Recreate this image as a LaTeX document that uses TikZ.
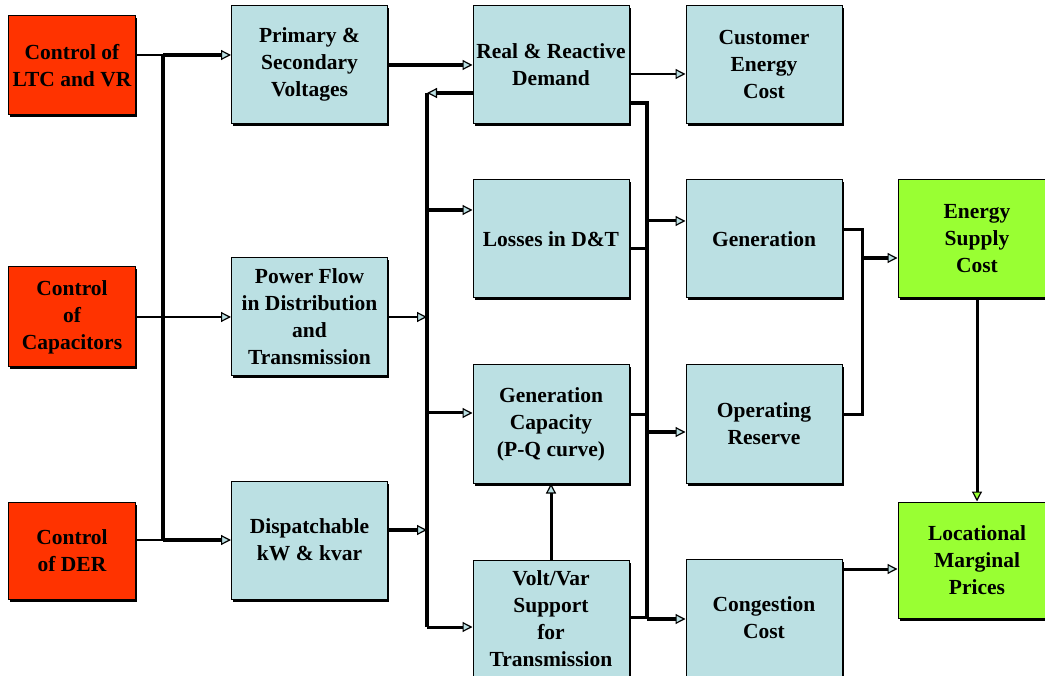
\documentclass[tikz,border=0pt]{standalone}
\usepackage{fontspec}
\setmainfont{Liberation Serif}
\usetikzlibrary{arrows.meta,shadows}
\definecolor{cred}{HTML}{FF3300}
\definecolor{cblue}{HTML}{BBE0E3}
\definecolor{cgreen}{HTML}{99FF33}
\begin{document}
\begin{tikzpicture}[x=1pt,y=-1pt,
 boxbase/.style={draw=black, line width=1pt, align=center, inner sep=0pt,
   font=\fontsize{21.5}{27}\selectfont\bfseries,
   drop shadow={shadow xshift=1.5pt, shadow yshift=-2.5pt, fill=black, opacity=1}},
 redbox/.style={boxbase, fill=cred, minimum width=127pt},
 bluebox/.style={boxbase, fill=cblue, minimum width=156pt, minimum height=118pt},
 greenbox/.style={boxbase, fill=cgreen, minimum width=158pt},
 thinln/.style={line width=2pt},
 medln/.style={line width=3pt},
 thickln/.style={line width=4pt},
 tipb/.style={-{Triangle[length=10pt,width=10pt,fill=cblue,line width=1.2pt]}},
 tipg/.style={-{Triangle[length=10pt,width=10pt,fill=cgreen,line width=1.2pt]}}
]
\useasboundingbox (0,0) rectangle (1045,676);
\fill[white] (0,0) rectangle (1045,676);
% boxes
\node[redbox, minimum height=99pt] (ltc) at (72,65.5) {Control of\\LTC and VR};
\node[redbox, minimum height=100pt] (cap) at (72,317) {Control\\of\\Capacitors};
\node[redbox, minimum height=97pt] (der) at (72,550.5) {Control\\of DER};
\node[bluebox] (prim) at (309.5,64.5) {Primary \&\\Secondary\\Voltages};
\node[bluebox] (pf) at (309.5,317) {Power Flow\\in Distribution\\and\\Transmission};
\node[bluebox] (disp) at (309.5,540) {Dispatchable\\kW \& kvar};
\node[bluebox] (real) at (551,65) {Real \& Reactive\\Demand};
\node[bluebox] (loss) at (551,239) {Losses in D\&T};
\node[bluebox] (gencap) at (551,424) {Generation\\Capacity\\(P-Q curve)};
\node[bluebox] (vv) at (551,619) {Volt/Var\\Support\\for\\Transmission};
\node[bluebox] (cust) at (764,64.5) {Customer\\Energy\\Cost};
\node[bluebox] (gen) at (764,239) {Generation};
\node[bluebox] (opres) at (764,424) {Operating\\Reserve};
\node[bluebox] (cong) at (764,618) {Congestion\\Cost};
\node[greenbox, minimum height=118pt] (esc) at (977,239) {Energy\\Supply\\Cost};
\node[greenbox, minimum height=116pt] (lmp) at (977,560) {Locational\\Marginal\\Prices};
% left bus
\coordinate (a1) at (163,55);
\coordinate (a2) at (163,540);
\coordinate (ycap) at (0,317);
\draw[thickln] (a1) -- (a2);
\draw[thinln] (ltc.east |- a1) -- (a1);
\draw[thickln,tipb] (a1) -- (prim.west |- a1);
\draw[thinln] (der.east |- a2) -- (a2);
\draw[thickln,tipb] (a2) -- (disp.west |- a2);
\draw[thinln,tipb] (cap.east |- ycap) -- (pf.west |- ycap);
% top row
\coordinate (t1) at (0,65);
\coordinate (t2) at (0,74);
\draw[thickln,tipb] (prim.east |- t1) -- (real.west |- t1);
\draw[thinln,tipb] (real.east |- t2) -- (cust.west |- t2);
% middle bus
\coordinate (m0) at (427,93);
\coordinate (m1) at (427,210);
\coordinate (mpf) at (427,317);
\coordinate (mgc) at (427,413);
\coordinate (md) at (427,530);
\coordinate (mvv) at (427,627);
\draw[thickln] (m0) -- (mvv);
\draw[thickln,tipb] (real.west |- m0) -- (m0);
\draw[thickln,tipb] (m1) -- (loss.west |- m1);
\draw[thinln,tipb] (pf.east |- mpf) -- (mpf);
\draw[medln,tipb] (mgc) -- (gencap.west |- mgc);
\draw[thickln,tipb] (disp.east |- md) -- (md);
\draw[medln,tipb] (mvv) -- (vv.west |- mvv);
\draw[medln,tipb] (vv.north) -- (gencap.south);
% right bus
\coordinate (r0) at (647,103);
\coordinate (rg) at (647,221);
\coordinate (rl) at (647,249);
\coordinate (rgc) at (647,415);
\coordinate (ro) at (647,432);
\coordinate (rvv) at (647,617);
\coordinate (rc) at (647,619);
\draw[thickln] (real.east |- r0) -- (r0) -- (rc);
\draw[medln,tipb] (rg) -- (gen.west |- rg);
\draw[medln] (loss.east |- rl) -- (rl);
\draw[medln] (gencap.east |- rgc) -- (rgc);
\draw[thickln,tipb] (ro) -- (opres.west |- ro);
\draw[medln] (vv.east |- rvv) -- (rvv);
\draw[thickln,tipb] (rc) -- (cong.west |- rc);
% generation / reserve to energy supply
\coordinate (g1) at (862,230);
\coordinate (g2) at (862,415);
\coordinate (g3) at (862,258);
\draw[medln] (gen.east |- g1) -- (g1) -- (g2) -- (opres.east |- g2);
\draw[thickln,tipb] (g3) -- (esc.west |- g3);
\draw[medln,tipg] (esc.south) -- (lmp.north);
\coordinate (c1) at (0,569);
\draw[medln,tipb] (cong.east |- c1) -- (lmp.west |- c1);
\end{tikzpicture}
\end{document}
